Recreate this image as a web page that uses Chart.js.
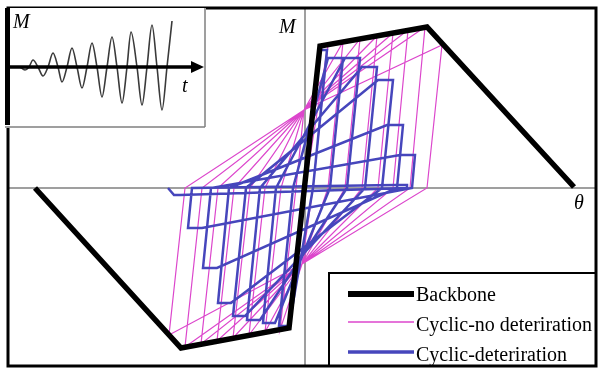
<!DOCTYPE html>
<html>
<head>
<meta charset="utf-8">
<script src="https://cdn.jsdelivr.net/npm/chart.js@4"></script>
<style>
  html, body { margin: 0; padding: 0; background: #fff; }
  #wrap { position: relative; width: 598px; height: 369px; }
  #mainChart { position: absolute; left: 0; top: 0; }
  #insetBox { position: absolute; left: 5px; top: 8px; width: 201px; height: 120px; background: #fff; }
</style>
</head>
<body>
<div id="wrap">
  <canvas id="mainChart" width="598" height="369"></canvas>
  <div id="insetBox"><canvas id="insetChart" width="201" height="120"></canvas></div>
</div>
<script>
// Backbone curve (rotation theta vs moment M)
const backboneTheta = [-2.70, -1.24, -0.16, 0.15, 1.22, 2.69];
const backboneM = [0, -1.60, -1.40, 1.42, 1.61, 0.01];

// Cyclic response without deterioration: peaks on the backbone, zero crossings, pinch points
const pinkPosPeakTheta = [0.23, 0.38, 0.55, 0.72, 0.88, 1.03, 1.20, 1.37];
const pinkPosPeakM = [1.43, 1.46, 1.49, 1.52, 1.55, 1.58, 1.61, 1.43];
const pinkPosZeroTheta = [0.08, 0.23, 0.40, 0.57, 0.73, 0.88, 1.05, 1.22];
const pinkNegPeakTheta = [-0.25, -0.40, -0.56, -0.72, -0.88, -1.04, -1.20, -1.36];
const pinkNegPeakM = [-1.42, -1.44, -1.47, -1.50, -1.53, -1.56, -1.59, -1.47];
const pinkNegZeroTheta = [-0.09, -0.24, -0.40, -0.55, -0.71, -0.87, -1.03, -1.20];
const pinkPinchPos = [-0.01, 0.78];
const pinkPinchNeg = [-0.03, -0.76];

// Cyclic response with deterioration
const bluePosFlatTheta = [0.14, 0.23, 0.40, 0.57, 0.73, 0.82, 0.95, 0.90];
const bluePosPeakTheta = [0.22, 0.38, 0.55, 0.72, 0.88, 0.98, 1.10, 1.02];
const bluePosPeakM = [1.38, 1.30, 1.30, 1.21, 1.08, 0.63, 0.33, 0.03];
const bluePosZeroTheta = [0.08, 0.25, 0.42, 0.60, 0.77, 0.92, 1.07, 1.02];
const blueNegFlatTheta = [-0.16, -0.30, -0.45, -0.60, -0.74, -0.88, -1.03, -1.25];
const blueNegPeakTheta = [-0.26, -0.42, -0.58, -0.72, -0.87, -1.02, -1.17, -1.31];
const blueNegPeakM = [-1.38, -1.35, -1.32, -1.28, -1.15, -0.80, -0.40, -0.07];
const blueNegZeroTheta = [-0.12, -0.29, -0.45, -0.59, -0.76, -0.94, -1.13, -1.37];

// Loading history shown in the small panel (moment vs time)
const loadTime = [1.3, 1.8, 2.2, 2.6, 3.1, 3.6, 4.1, 4.6, 5.1, 5.5, 6.0, 6.5, 7.0, 7.5, 8.0, 8.5,
  9.0, 9.5, 10.0, 10.5, 11.0, 11.5, 12.0, 12.4, 13.0, 13.5, 14.0, 14.5, 15.0, 15.5, 16.0, 16.5];
const loadM = [0, -0.3, 0, 0.7, 0, -0.9, 0, 1.4, 0, -1.5, 0, 1.9, 0, -2.1, 0, 2.4,
  0, -3.0, 0, 3.0, 0, -3.6, 0, 3.5, 0, -3.8, 0, 4.2, 0, -4.3, 0, 4.6];

const legendLabels = ['Backbone', 'Cyclic-no deteriration', 'Cyclic-deteriration'];
const colors = { backbone: '#000000', pink: '#dc46cc', blue: '#4646bc' };

// assemble the loop paths
const backbonePts = backboneTheta.map((t, i) => ({ x: t, y: backboneM[i] }));

const pinkPts = [{ x: 0, y: 0 }];
for (let i = 0; i < pinkPosPeakTheta.length; i++) {
  pinkPts.push({ x: pinkPosPeakTheta[i], y: pinkPosPeakM[i] });
  pinkPts.push({ x: pinkPosZeroTheta[i], y: 0 });
  pinkPts.push({ x: pinkPinchNeg[0], y: pinkPinchNeg[1] });
  pinkPts.push({ x: pinkNegPeakTheta[i], y: pinkNegPeakM[i] });
  pinkPts.push({ x: pinkNegZeroTheta[i], y: 0 });
  pinkPts.push({ x: pinkPinchPos[0], y: pinkPinchPos[1] });
}

const bluePts = [{ x: 0, y: 0 }];
for (let i = 0; i < bluePosPeakTheta.length; i++) {
  bluePts.push({ x: bluePosFlatTheta[i], y: bluePosPeakM[i] });
  bluePts.push({ x: bluePosPeakTheta[i], y: bluePosPeakM[i] });
  bluePts.push({ x: bluePosZeroTheta[i], y: 0 });
  bluePts.push({ x: blueNegFlatTheta[i], y: blueNegPeakM[i] });
  bluePts.push({ x: blueNegPeakTheta[i], y: blueNegPeakM[i] });
  bluePts.push({ x: blueNegZeroTheta[i], y: 0 });
}

// zero axes under the loops
const zeroAxes = {
  id: 'zeroAxes',
  beforeDatasetsDraw(chart) {
    const { ctx, chartArea: a, scales } = chart;
    const x0 = scales.x.getPixelForValue(0);
    const y0 = scales.y.getPixelForValue(0);
    ctx.save();
    ctx.strokeStyle = '#808080';
    ctx.lineWidth = 1.5;
    ctx.beginPath();
    ctx.moveTo(a.left, y0); ctx.lineTo(a.right, y0);
    ctx.moveTo(x0, a.top); ctx.lineTo(x0, a.bottom);
    ctx.stroke();
    ctx.restore();
  }
};

// legend box, axis names and outer frame
const decorations = {
  id: 'decorations',
  afterDatasetsDraw(chart) {
    const { ctx, chartArea: a } = chart;
    ctx.save();
    // legend
    ctx.fillStyle = '#fff';
    ctx.fillRect(329, 273, a.right - 329, a.bottom - 273);
    ctx.strokeStyle = '#000';
    ctx.lineWidth = 2;
    ctx.strokeRect(329, 273, a.right - 329, a.bottom - 273);
    const rows = [
      { y: 294, base: 301, color: colors.backbone, w: 6 },
      { y: 322, base: 331, color: colors.pink, w: 1.5 },
      { y: 352, base: 361, color: colors.blue, w: 3.5 }
    ];
    ctx.font = '20px "Liberation Serif", "Times New Roman", serif';
    ctx.textBaseline = 'alphabetic';
    rows.forEach((r, i) => {
      ctx.strokeStyle = r.color;
      ctx.lineWidth = r.w;
      ctx.beginPath();
      ctx.moveTo(348, r.y); ctx.lineTo(414, r.y);
      ctx.stroke();
      ctx.fillStyle = '#000';
      ctx.fillText(legendLabels[i], 416, r.base);
    });
    // axis names
    ctx.font = 'italic 20px "Liberation Serif", "Times New Roman", serif';
    ctx.fillText('M', 279, 33);
    ctx.fillText('θ', 574, 209);
    // frame
    ctx.lineWidth = 3;
    ctx.strokeStyle = '#000';
    ctx.strokeRect(a.left, a.top, a.right - a.left, a.bottom - a.top);
    ctx.restore();
  }
};

new Chart(document.getElementById('mainChart').getContext('2d'), {
  type: 'scatter',
  data: {
    datasets: [
      { label: legendLabels[0], data: backbonePts, showLine: true, borderColor: colors.backbone,
        borderWidth: 5.5, borderJoinStyle: 'miter', pointRadius: 0, order: 0 },
      { label: legendLabels[2], data: bluePts, showLine: true, borderColor: colors.blue,
        borderWidth: 2.5, pointRadius: 0, order: 1 },
      { label: legendLabels[1], data: pinkPts, showLine: true, borderColor: colors.pink,
        borderWidth: 1.2, pointRadius: 0, order: 2 }
    ]
  },
  options: {
    responsive: false,
    animation: false,
    layout: { padding: { left: 8, top: 8, right: 2, bottom: 3 } },
    plugins: { legend: { display: false }, tooltip: { enabled: false } },
    scales: {
      x: { type: 'linear', min: -2.97, max: 2.91, display: false },
      y: { type: 'linear', min: -1.78, max: 1.80, display: false }
    }
  },
  plugins: [zeroAxes, decorations]
});

// small panel: time axis with arrow, borders and labels
const insetDecor = {
  id: 'insetDecor',
  afterDatasetsDraw(chart) {
    const { ctx, width, height, scales } = chart;
    const y0 = scales.y.getPixelForValue(0);
    ctx.save();
    ctx.strokeStyle = '#808080';
    ctx.lineWidth = 1.5;
    ctx.beginPath();
    ctx.moveTo(0, height - 1); ctx.lineTo(width - 1, height - 1);
    ctx.moveTo(width - 1, 0); ctx.lineTo(width - 1, height - 1);
    ctx.stroke();
    ctx.strokeStyle = '#000';
    ctx.lineWidth = 5;
    ctx.beginPath();
    ctx.moveTo(2.5, 0); ctx.lineTo(2.5, height - 3);
    ctx.stroke();
    ctx.lineWidth = 3.5;
    ctx.beginPath();
    ctx.moveTo(2, y0); ctx.lineTo(190, y0);
    ctx.stroke();
    ctx.fillStyle = '#000';
    ctx.beginPath();
    ctx.moveTo(199, y0); ctx.lineTo(186, y0 - 6); ctx.lineTo(186, y0 + 6);
    ctx.closePath();
    ctx.fill();
    ctx.font = 'italic 20px "Liberation Serif", "Times New Roman", serif';
    ctx.fillText('M', 8, 20);
    ctx.fillText('t', 177, 84);
    ctx.restore();
  }
};

new Chart(document.getElementById('insetChart').getContext('2d'), {
  type: 'scatter',
  data: {
    datasets: [{
      data: loadTime.map((t, i) => ({ x: t, y: loadM[i] })),
      showLine: true, borderColor: '#3a3a3a', borderWidth: 1.6,
      cubicInterpolationMode: 'monotone', pointRadius: 0
    }]
  },
  options: {
    responsive: false,
    animation: false,
    layout: { padding: 0 },
    plugins: { legend: { display: false }, tooltip: { enabled: false } },
    scales: {
      x: { type: 'linear', min: -0.2, max: 19.9, display: false },
      y: { type: 'linear', min: -6.1, max: 5.9, display: false }
    }
  },
  plugins: [insetDecor]
});
</script>
</body>
</html>
